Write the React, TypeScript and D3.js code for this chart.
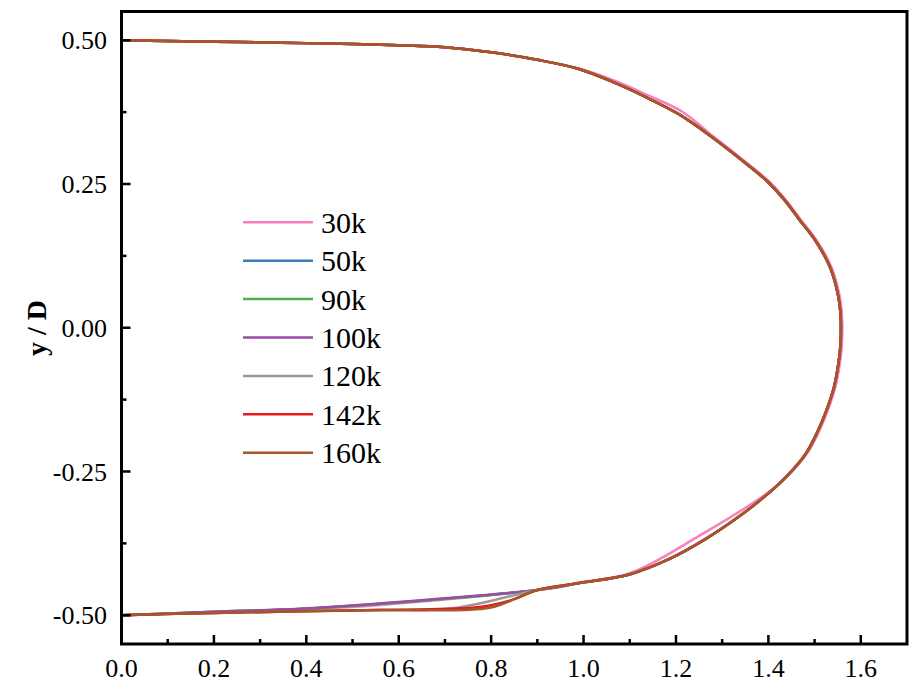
import React from "react";
import * as d3 from "d3";

// Shared contour (top, nose, lower-right)
const topX = [0, 0.1, 0.2, 0.3, 0.4, 0.5, 0.6, 0.7, 0.8, 0.9, 0.99, 1.063, 1.135, 1.207, 1.279, 1.34, 1.395, 1.435, 1.467, 1.503, 1.533, 1.55, 1.556, 1.557, 1.556, 1.552, 1.542, 1.525, 1.505, 1.481, 1.44, 1.4];
const topY = [0.5, 0.4985, 0.4975, 0.4962, 0.495, 0.4935, 0.4915, 0.488, 0.479, 0.466, 0.45, 0.4275, 0.401, 0.371, 0.331, 0.293, 0.2565, 0.222, 0.188, 0.15, 0.106, 0.06, 0.025, 0.0, -0.03, -0.06, -0.103, -0.145, -0.183, -0.219, -0.258, -0.288];
const lowX = [1.337, 1.261, 1.186, 1.099, 0.991, 0.9];
const lowY = [-0.328, -0.369, -0.402, -0.429, -0.444, -0.456];

// 30k variant (pink) segments
const pinkTopX = [0, 0.1, 0.2, 0.3, 0.4, 0.5, 0.6, 0.7, 0.8, 0.9, 0.99, 1.07, 1.14, 1.213, 1.28, 1.342, 1.398, 1.438, 1.47, 1.506, 1.536, 1.553, 1.559, 1.56, 1.559, 1.555, 1.545, 1.528, 1.508, 1.484, 1.444, 1.404];
const pinkTopY = [0.5, 0.4985, 0.4975, 0.4962, 0.495, 0.4935, 0.4915, 0.488, 0.479, 0.466, 0.451, 0.429, 0.404, 0.376, 0.333, 0.294, 0.257, 0.222, 0.188, 0.15, 0.106, 0.06, 0.025, 0.0, -0.03, -0.06, -0.103, -0.145, -0.183, -0.218, -0.256, -0.284];
const pinkLowX = [1.25, 1.1, 0.99, 0.95];
const pinkLowY = [-0.362, -0.427, -0.443, -0.451];
const pinkTailX = [0.56, 0.386, 0.2, 0];
const pinkTailY = [-0.482, -0.49, -0.495, -0.5];

// lower-left tails per series
const tail50X = [0.56, 0.386, 0.2, 0];
const tail50Y = [-0.48, -0.489, -0.494, -0.5];
const tail90X = [0.56, 0.386, 0.2, 0];
const tail90Y = [-0.4805, -0.489, -0.494, -0.5];
const tail100X = [0.56, 0.386, 0.2, 0];
const tail100Y = [-0.4795, -0.4885, -0.494, -0.5];
const tail120X = [0.717, 0.56, 0.386, 0.2, 0];
const tail120Y = [-0.488, -0.491, -0.493, -0.496, -0.5];
const tail142X = [0.854, 0.797, 0.76, 0.56, 0.386, 0.2, 0];
const tail142Y = [-0.471, -0.483, -0.487, -0.491, -0.493, -0.496, -0.5];
const tail160X = [0.861, 0.797, 0.56, 0.386, 0.2, 0];
const tail160Y = [-0.468, -0.487, -0.491, -0.493, -0.496, -0.5];

const seriesNames = ["30k", "50k", "90k", "100k", "120k", "142k", "160k"];
const seriesColors = ["#f781bf", "#377eb8", "#4daf4a", "#984ea3", "#999999", "#e41a1c", "#a65628"];

const xTicks = [0, 0.2, 0.4, 0.6, 0.8, 1.0, 1.2, 1.4, 1.6];
const xMinor = [0.1, 0.3, 0.5, 0.7, 0.9, 1.1, 1.3, 1.5, 1.7];
const yTicks = [-0.5, -0.25, 0, 0.25, 0.5];
const yMinor = [-0.375, -0.125, 0.125, 0.375];

type Pt = [number, number];
const zip = (xs: number[], ys: number[]): Pt[] => xs.map((x, i) => [x, ys[i]]);

const common = [...zip(topX, topY), ...zip(lowX, lowY)];
const seriesData: Pt[][] = [
  [...zip(pinkTopX, pinkTopY), ...zip(pinkLowX, pinkLowY), ...zip(pinkTailX, pinkTailY)],
  [...common, ...zip(tail50X, tail50Y)],
  [...common, ...zip(tail90X, tail90Y)],
  [...common, ...zip(tail100X, tail100Y)],
  [...common, ...zip(tail120X, tail120Y)],
  [...common, ...zip(tail142X, tail142Y)],
  [...common, ...zip(tail160X, tail160Y)],
];

export default function App() {
  const W = 909, H = 686;
  const L = 121.5, R = 907, T = 11.5, B = 644;
  const x = d3.scaleLinear().domain([0, 1.7]).range([L, R]);
  const y = d3.scaleLinear().domain([-0.55, 0.55]).range([B, T]);
  const line = d3.line<Pt>().x(d => x(d[0])).y(d => y(d[1])).curve(d3.curveCatmullRom.alpha(0.5));
  const font = "Liberation Serif";
  return (
    <svg width={W} height={H} style={{ position: "absolute", left: 0, top: 0 }}>
      <rect width={W} height={H} fill="#fff" />
      {seriesData.map((d, i) => (
        <path key={i} d={line(d) || ""} fill="none" stroke={seriesColors[i]} strokeWidth={2.5} strokeLinejoin="round" />
      ))}
      {/* frame */}
      <rect x={L} y={T} width={R - L} height={B - T} fill="none" stroke="#000" strokeWidth={3} />
      {xTicks.map(t => (
        <g key={"xt" + t}>
          <line x1={x(t)} x2={x(t)} y1={B} y2={B - 9} stroke="#000" strokeWidth={2.5} />
          <text x={x(t)} y={677} textAnchor="middle" fontFamily={font} fontSize={26}>{t.toFixed(1)}</text>
        </g>
      ))}
      {xMinor.filter(t => x(t) < R - 2).map(t => (
        <line key={"xm" + t} x1={x(t)} x2={x(t)} y1={B} y2={B - 5} stroke="#000" strokeWidth={2.5} />
      ))}
      {yTicks.map(t => (
        <g key={"yt" + t}>
          <line x1={L} x2={L + 9} y1={y(t)} y2={y(t)} stroke="#000" strokeWidth={2.5} />
          <text x={107} y={y(t) + 9} textAnchor="end" fontFamily={font} fontSize={26}>{t.toFixed(2)}</text>
        </g>
      ))}
      {yMinor.map(t => (
        <line key={"ym" + t} x1={L} x2={L + 5} y1={y(t)} y2={y(t)} stroke="#000" strokeWidth={2.5} />
      ))}
      <text transform="translate(46,328) rotate(-90)" textAnchor="middle" fontFamily={font} fontSize={28} fontWeight="bold">y / D</text>
      {seriesNames.map((n, i) => {
        const ly = 222.3 + i * 38.4;
        return (
          <g key={n}>
            <line x1={243} x2={313} y1={ly} y2={ly} stroke={seriesColors[i]} strokeWidth={2.5} />
            <text x={321} y={ly + 10.5} fontFamily={font} fontSize={30}>{n}</text>
          </g>
        );
      })}
    </svg>
  );
}
